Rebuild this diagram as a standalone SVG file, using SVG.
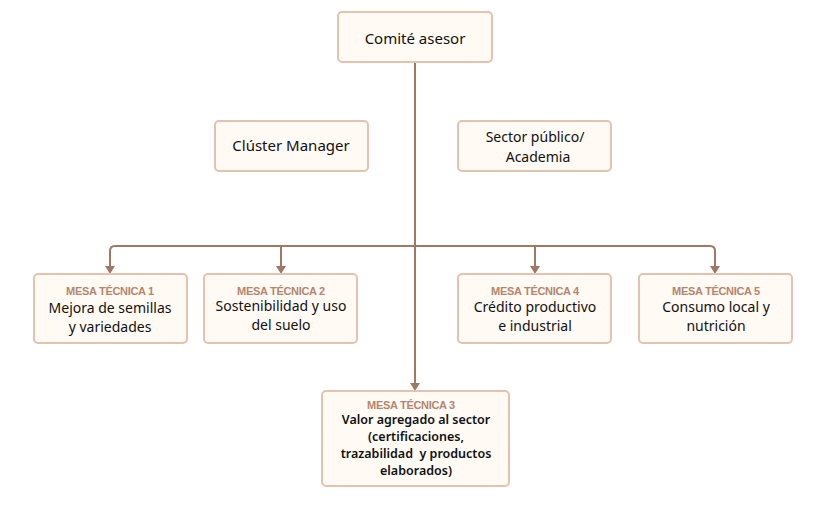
<svg xmlns="http://www.w3.org/2000/svg" width="830" height="516" viewBox="0 0 830 516">
<style>
.box{fill:#fffaf3;stroke:#e3c3b0;stroke-width:2}
.t{font-family:"Noto Sans","Open Sans",sans-serif;font-size:14px;fill:#111;text-anchor:middle}
.tt{font-family:"Noto Sans","Open Sans",sans-serif;font-size:15px;fill:#111;text-anchor:middle}
.b{font-family:"Noto Sans","Open Sans",sans-serif;font-size:12.5px;font-weight:600;fill:#111;text-anchor:middle}
.lab{font-family:"Liberation Sans",Arial,sans-serif;font-size:11px;font-weight:bold;fill:#b4866f;text-anchor:middle;letter-spacing:-0.3px}
.c{fill:none;stroke:#a07866;stroke-width:2}
.ah{fill:#a07866}
</style>
<rect width="830" height="516" fill="#ffffff"/>
<g id="connectors">
<line class="c" x1="415" y1="62" x2="415" y2="384"/>
<path class="c" d="M110,268 V251 Q110,246 115,246 H710 Q715,246 715,251 V268"/>
<line class="c" x1="281" y1="246" x2="281" y2="268"/>
<line class="c" x1="535" y1="246" x2="535" y2="268"/>
<path class="ah" d="M105,266 L115,266 L110,274 z"/>
<path class="ah" d="M276,266 L286,266 L281,274 z"/>
<path class="ah" d="M530,266 L540,266 L535,274 z"/>
<path class="ah" d="M710,266 L720,266 L715,274 z"/>
<path class="ah" d="M410,383 L420,383 L415,391 z"/>
</g>
<g id="comite">
<rect class="box" x="338" y="12" width="154" height="50" rx="4"/>
<text class="tt" x="415" y="44">Comité asesor</text>
</g>
<g id="cluster">
<rect class="box" x="215" y="121" width="153" height="50" rx="4"/>
<text class="tt" x="291" y="151">Clúster Manager</text>
</g>
<g id="sector">
<rect class="box" x="458" y="121" width="153" height="50" rx="4"/>
<text class="t" x="535" y="142">Sector público/</text>
<text class="t" x="538" y="162">Academia</text>
</g>
<g id="mesa1">
<rect class="box" x="34" y="274" width="153" height="69" rx="4"/>
<text class="lab" x="110" y="295">MESA TÉCNICA 1</text>
<text class="t" x="110" y="313">Mejora de semillas</text>
<text class="t" x="110" y="332">y variedades</text>
</g>
<g id="mesa2">
<rect class="box" x="204" y="274" width="153" height="69" rx="4"/>
<text class="lab" x="281" y="295">MESA TÉCNICA 2</text>
<text class="t" x="281" y="311">Sostenibilidad y uso</text>
<text class="t" x="281" y="330">del suelo</text>
</g>
<g id="mesa4">
<rect class="box" x="458" y="274" width="153" height="69" rx="4"/>
<text class="lab" x="535" y="295">MESA TÉCNICA 4</text>
<text class="t" x="535" y="312">Crédito productivo</text>
<text class="t" x="535" y="331">e industrial</text>
</g>
<g id="mesa5">
<rect class="box" x="639" y="274" width="153" height="69" rx="4"/>
<text class="lab" x="716" y="295">MESA TÉCNICA 5</text>
<text class="t" x="716" y="312">Consumo local y</text>
<text class="t" x="716" y="331">nutrición</text>
</g>
<g id="mesa3">
<rect class="box" x="322" y="391" width="187" height="95" rx="4"/>
<text class="lab" x="411" y="409">MESA TÉCNICA 3</text>
<text class="b" x="416" y="424">Valor agregado al sector</text>
<text class="b" x="416" y="441">(certificaciones,</text>
<text class="b" x="416" y="458" xml:space="preserve">trazabilidad  y productos</text>
<text class="b" x="416" y="475">elaborados)</text>
</g>
</svg>
